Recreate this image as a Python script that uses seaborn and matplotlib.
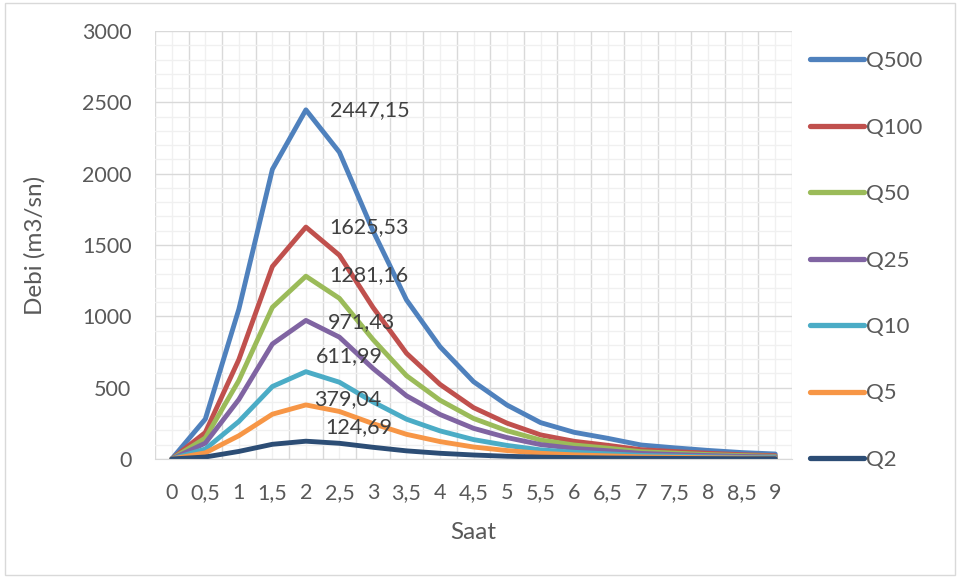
import pandas as pd
import seaborn as sns
import matplotlib
matplotlib.use("Agg")
import matplotlib.pyplot as plt
from matplotlib.patches import Rectangle

hours = [0, 0.5, 1, 1.5, 2, 2.5, 3, 3.5, 4, 4.5, 5, 5.5, 6, 6.5, 7, 7.5, 8, 8.5, 9]
hour_labels = ["0", "0,5", "1", "1,5", "2", "2,5", "3", "3,5", "4", "4,5",
               "5", "5,5", "6", "6,5", "7", "7,5", "8", "8,5", "9"]

q500 = [0, 280, 1050, 2030, 2447.15, 2150, 1600, 1115, 787, 542, 378, 255, 187, 145, 98, 78, 60, 45, 35]
q100 = [0, 186, 697, 1349, 1625.53, 1428, 1063, 741, 523, 360, 251, 169, 124, 96, 65, 52, 40, 30, 23]
q50 = [0, 147, 550, 1063, 1281.16, 1126, 838, 584, 412, 284, 198, 133, 98, 76, 51, 41, 31, 24, 18]
q25 = [0, 111, 417, 806, 971.43, 854, 635, 443, 312, 215, 150, 101, 74, 58, 39, 31, 24, 18, 14]
q10 = [0, 70, 263, 508, 611.99, 538, 400, 279, 197, 136, 95, 64, 47, 36, 25, 20, 15, 11, 9]
q5 = [0, 43, 163, 314, 379.04, 333, 248, 173, 122, 84, 59, 40, 29, 22, 15, 12, 9, 7, 5]
q2 = [0, 14, 53, 103, 124.69, 110, 82, 57, 40, 28, 19, 13, 10, 7, 5, 4, 3, 2, 2]

series_names = ["Q500", "Q100", "Q50", "Q25", "Q10", "Q5", "Q2"]
series_values = [q500, q100, q50, q25, q10, q5, q2]
colors = ["#4F81BD", "#C0504D", "#9BBB59", "#8064A2", "#4BACC6", "#F79646", "#2C4D75"]

# peak labels, shifted by hand (in points) like in the source chart
peak_labels = ["2447,15", "1625,53", "1281,16", "971,43", "611,99", "379,04", "124,69"]
label_offsets = [(17, 0), (17, 0), (17, 1), (16, -1), (7, 11), (6, 4), (14, 10)]

rows = []
for name, vals in zip(series_names, series_values):
    for h, v in zip(hours, vals):
        rows.append({"Saat": h, "Debi": v, "Seri": name})
df = pd.DataFrame(rows)

sns.set_style("white")
plt.rcParams["font.family"] = ["Lato", "DejaVu Sans"]

fig = plt.figure(figsize=(9.6, 5.78), dpi=100)
ax = fig.add_axes([0.1615, 0.2059, 0.6635, 0.7405])

sns.lineplot(data=df, x="Saat", y="Debi", hue="Seri", hue_order=series_names,
             palette=dict(zip(series_names, colors)), linewidth=3.5,
             ax=ax, legend=True)

for name, vals, lab, off in zip(series_names, series_values, peak_labels, label_offsets):
    i = vals.index(max(vals))
    ax.annotate(lab, xy=(hours[i], vals[i]), xytext=off, textcoords="offset points",
                ha="left", va="center", fontsize=15.5, color="#404040")

ax.set_xlim(-0.25, 9.25)
ax.set_ylim(0, 3000)
ax.set_xticks(hours)
ax.set_xticklabels(hour_labels)
ax.set_xticks([h - 0.25 for h in hours] + [9.25], minor=True)
ax.set_yticks(range(0, 3001, 500))
ax.set_yticks(range(0, 3001, 100), minor=True)

ax.grid(which="major", axis="x", color="#f0f0f0", linewidth=1)
ax.grid(which="minor", axis="x", color="#d9d9d9", linewidth=1)
ax.grid(which="major", axis="y", color="#d9d9d9", linewidth=1)
ax.grid(which="minor", axis="y", color="#f0f0f0", linewidth=1)
ax.set_axisbelow(True)
for s in ax.spines.values():
    s.set_visible(False)
ax.spines["bottom"].set_visible(True)
ax.spines["bottom"].set_color("#d9d9d9")

ax.tick_params(which="both", length=0)
ax.tick_params(axis="x", labelsize=15.5, colors="#595959", pad=17)
ax.tick_params(axis="y", labelsize=15.5, colors="#595959", pad=17)
ax.set_xlabel("Saat", fontsize=17.5, color="#595959", labelpad=14)
ax.set_ylabel("Debi (m3/sn)", fontsize=17.5, color="#595959", labelpad=26)

handles, labels = ax.get_legend_handles_labels()
ax.get_legend().remove()
for h in handles:
    h.set_linewidth(3.8)
fig.legend(handles, labels, loc="upper left", bbox_to_anchor=(0.823, 0.946),
           frameon=False, fontsize=16, handlelength=2.43, handletextpad=0.1,
           labelspacing=2.09, labelcolor="#595959")

fig.patches.append(Rectangle((0.005, 0.005), 0.99, 0.99, transform=fig.transFigure,
                             fill=False, edgecolor="#d9d9d9", linewidth=1))

fig.savefig("out.png", dpi=100)
